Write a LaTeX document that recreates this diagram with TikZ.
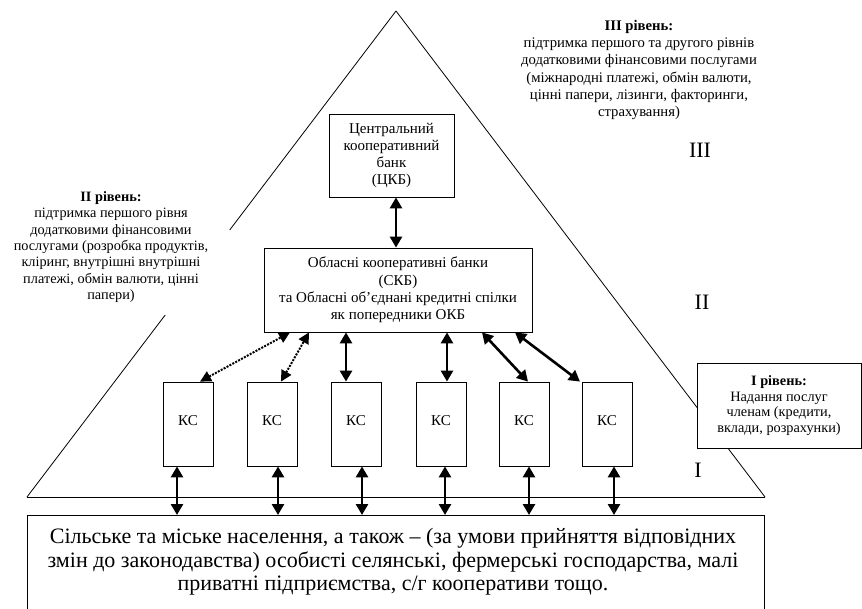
\documentclass[tikz,border=0pt]{standalone}
\usepackage{fontspec}
\setmainfont{Liberation Serif}
\usetikzlibrary{arrows.meta,calc}
\tikzset{
  box/.style={draw, line width=0.8pt, fill=white, inner sep=0pt, align=center,
    font=\fontsize{15}{17.2}\selectfont},
  ksbox/.style={box, minimum width=50pt, minimum height=84pt, font=\fontsize{15}{17}\selectfont},
  lvltext/.style={align=center, inner sep=0pt, font=\fontsize{14.3}{16.4}\selectfont},
  roman/.style={inner sep=0pt, font=\fontsize{22}{24}\selectfont},
  tri/.style={line width=0.8pt},
  dbl/.style={{Triangle[length=11pt,width=12pt]}-{Triangle[length=11pt,width=12pt]}, line width=2.6pt},
  dotarr/.style={{Triangle[length=11pt,width=11pt]}-{Triangle[length=11pt,width=11pt]}, line width=2pt, dash pattern=on 2pt off 1.3pt}
}
\begin{document}
\begin{tikzpicture}[x=1pt,y=-1pt]
\useasboundingbox (0,0) rectangle (862,609);
\clip (0,0) rectangle (862,609);
% triangle
\coordinate (apex) at (396,11);
\coordinate (bl) at (27,497);
\coordinate (br) at (765,497);
\draw[tri] (bl) -- (br);
\draw[tri] (apex) -- (br);
\draw[tri] (apex) -- (229.7,230);
\draw[tri] (165.2,315) -- (bl);

% level texts
\node[lvltext, font=\fontsize{14.7}{17.3}\selectfont] (t3) at (639,70) {\textbf{III рівень:}\\підтримка першого та другого рівнів\\додатковими фінансовими послугами\\(міжнародні платежі, обмін валюти,\\цінні папери, лізинги, факторинги,\\страхування)};
\node[lvltext] (t2) at (111,247) {\textbf{II рівень:}\\підтримка першого рівня\\додатковими фінансовими\\послугами (розробка продуктів,\\кліринг, внутрішні внутрішні\\платежі, обмін валюти, цінні\\папери)};
\node[box, minimum width=164pt, minimum height=85pt, font=\fontsize{14.3}{15.8}\selectfont] (t1) at (779,405.5) {\textbf{I рівень:}\\Надання послуг\\членам (кредити,\\вклади, розрахунки)};

% roman numerals
\node[roman] (r3) at (700,150) {III};
\node[roman] (r2) at (702,302) {II};
\node[roman] (r1) at (698,470) {I};

% boxes
\node[box, minimum width=125pt, minimum height=83pt] (ckb) at (391.5,155.5) {Центральний\\кооперативний\\банк\\(ЦКБ)};
\node[box, minimum width=268pt, minimum height=84pt] (okb) at (398,290) {Обласні кооперативні банки\\(СКБ)\\та Обласні об’єднані кредитні спілки\\як попередники ОКБ};
\foreach \i/\x in {1/188,2/272,3/356,4/441,5/524,6/607}{
  \node[ksbox] (ks\i) at (\x,424) {\raisebox{6pt}{КС}};
}
\node[draw, line width=0.8pt, minimum width=737pt, minimum height=120pt, anchor=north, inner sep=0pt] (bot) at (395.5,515) {};
\node[align=center, inner sep=0pt, font=\fontsize{22}{23.5}\selectfont] (bottxt) at (393,562) {Сільське та міське населення, а також – (за умови прийняття відповідних\\змін до законодавства) особисті селянські, фермерські господарства, малі\\приватні підприємства, с/г кооперативи тощо.};

% arrows
\draw[dbl] ([xshift=4.5pt]ckb.south) -- ([xshift=4.5pt]ckb.south |- okb.north);
\draw[dotarr] ([xshift=12pt]ks1.north) -- ([xshift=-108pt]okb.south);
\draw[dotarr] ([xshift=9pt]ks2.north) -- ([xshift=-89pt]okb.south);
\draw[dbl] ([xshift=-10pt]ks3.north) -- ([xshift=-10pt]ks3.north |- okb.south);
\draw[dbl] ([xshift=6pt]ks4.north) -- ([xshift=6pt]ks4.north |- okb.south);
\draw[dbl] ([xshift=4pt]ks5.north) -- ([xshift=84pt]okb.south);
\draw[dbl] ([xshift=-27pt]ks6.north) -- ([xshift=117pt]okb.south);
\draw[dbl] ([xshift=-11pt]ks1.south) -- ([xshift=-11pt]ks1.south |- bot.north);
\draw[dbl] ([xshift=6pt]ks2.south) -- ([xshift=6pt]ks2.south |- bot.north);
\draw[dbl] ([xshift=6pt]ks3.south) -- ([xshift=6pt]ks3.south |- bot.north);
\draw[dbl] ([xshift=4pt]ks4.south) -- ([xshift=4pt]ks4.south |- bot.north);
\draw[dbl] ([xshift=5pt]ks5.south) -- ([xshift=5pt]ks5.south |- bot.north);
\draw[dbl] ([xshift=7pt]ks6.south) -- ([xshift=7pt]ks6.south |- bot.north);
\end{tikzpicture}
\end{document}
